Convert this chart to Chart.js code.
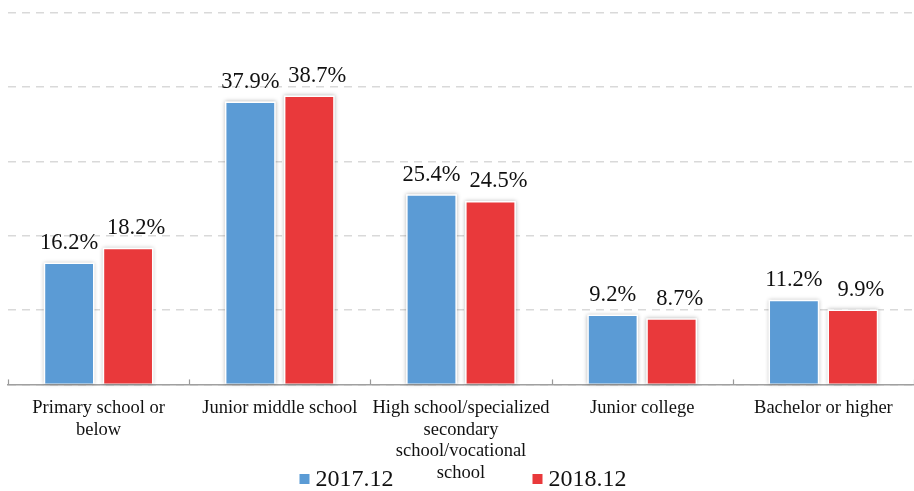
<!DOCTYPE html>
<html>
<head>
<meta charset="utf-8">
<script src="https://cdn.jsdelivr.net/npm/chart.js@4.4.1/dist/chart.umd.min.js"></script>
<style>
  html, body { margin: 0; padding: 0; background: #fff; }
  #wrap { width: 914px; height: 491px; position: relative; }
</style>
</head>
<body>
<div id="wrap"><canvas id="c"></canvas></div>
<script>
// Education level of internet users (%)
const categories = [
  ['Primary school or', 'below'],
  ['Junior middle school'],
  ['High school/specialized', 'secondary', 'school/vocational', 'school'],
  ['Junior college'],
  ['Bachelor or higher']
];
const seriesNames = ['2017.12', '2018.12'];
const values2017 = [16.2, 37.9, 25.4, 9.2, 11.2];
const values2018 = [18.2, 38.7, 24.5, 8.7, 9.9];
const yMin = 0;
const yMax = 50;
const yStep = 10;

const BLUE = '#5B9BD5';
const RED = '#E9393B';
const SERIF = '"Liberation Serif", "Times New Roman", serif';
const TEXT = '#111';

// soft white halo + grey shadow behind each bar
const barShadow = {
  id: 'barShadow',
  beforeDatasetsDraw(chart) {
    const ctx = chart.ctx;
    ctx.save();
    ctx.shadowColor = 'rgba(0,0,0,0.28)';
    ctx.shadowBlur = 4;
    ctx.shadowOffsetX = 0;
    ctx.shadowOffsetY = 0;
    ctx.fillStyle = '#fff';
    chart.data.datasets.forEach((ds, di) => {
      chart.getDatasetMeta(di).data.forEach(el => {
        const p = el.getProps(['x', 'y', 'base', 'width'], true);
        ctx.fillRect(p.x - p.width / 2 - 1.5, p.y - 1.5, p.width + 3, p.base - p.y + 1.5);
      });
    });
    ctx.restore();
  }
};

// value labels above bars
const valueLabels = {
  id: 'valueLabels',
  afterDatasetsDraw(chart, args, opts) {
    const ctx = chart.ctx;
    ctx.save();
    ctx.font = '22.5px ' + SERIF;
    ctx.fillStyle = TEXT;
    ctx.textAlign = 'center';
    ctx.textBaseline = 'alphabetic';
    chart.data.datasets.forEach((ds, di) => {
      const shift = opts.shift[di] || 0;
      chart.getDatasetMeta(di).data.forEach((el, i) => {
        const p = el.getProps(['x', 'y'], true);
        ctx.fillText(ds.data[i].toFixed(1) + '%', p.x + shift, p.y - 15);
      });
    });
    ctx.restore();
  }
};

// short upward tick marks at category boundaries
const boundaryTicks = {
  id: 'boundaryTicks',
  afterDraw(chart) {
    const x = chart.scales.x;
    const ctx = chart.ctx;
    const bottom = chart.chartArea.bottom;
    ctx.save();
    ctx.strokeStyle = '#9a9a9a';
    ctx.lineWidth = 1.2;
    for (let i = 0; i <= categories.length; i++) {
      const px = Math.round(x.getPixelForValue(i - 0.5)) + 0.5;
      ctx.beginPath();
      ctx.moveTo(px, bottom);
      ctx.lineTo(px, bottom - 5);
      ctx.stroke();
    }
    ctx.restore();
  }
};

// legend at the bottom centre
const bottomLegend = {
  id: 'bottomLegend',
  afterDraw(chart) {
    const ctx = chart.ctx;
    ctx.save();
    ctx.font = '24px ' + SERIF;
    ctx.textBaseline = 'middle';
    ctx.textAlign = 'left';
    const box = 10, gap = 6, itemGap = 139;
    const widths = chart.data.datasets.map(ds => ctx.measureText(ds.label).width);
    const total = widths.reduce((a, w) => a + box + gap + w, 0) + itemGap * (widths.length - 1);
    const area = chart.chartArea;
    let x = (area.left + area.right) / 2 + 2 - total / 2;
    const yMid = 479;
    chart.data.datasets.forEach((ds, di) => {
      ctx.fillStyle = ds.backgroundColor;
      ctx.fillRect(x, yMid - 5, box, box);
      x += box + gap;
      ctx.fillStyle = TEXT;
      ctx.fillText(ds.label, x, yMid + 1);
      x += widths[di] + itemGap;
    });
    ctx.restore();
  }
};

new Chart(document.getElementById('c'), {
  type: 'bar',
  data: {
    labels: categories,
    datasets: [
      { label: seriesNames[0], data: values2017, backgroundColor: BLUE, borderWidth: 0 },
      { label: seriesNames[1], data: values2018, backgroundColor: RED, borderWidth: 0 }
    ]
  },
  options: {
    responsive: true,
    maintainAspectRatio: false,
    animation: false,
    layout: { padding: { left: 8, right: 0, top: 13, bottom: -6 } },
    datasets: { bar: { categoryPercentage: 0.651, barPercentage: 0.81 } },
    plugins: {
      legend: { display: false },
      tooltip: { enabled: false },
      valueLabels: { shift: [0, 8] }
    },
    scales: {
      x: {
        grid: { display: false, drawTicks: false },
        border: { display: true, color: '#a0a0a0', width: 1.5 },
        ticks: {
          color: TEXT,
          font: { family: SERIF, size: 18.5, lineHeight: 1.17 },
          padding: 13,
          maxRotation: 0,
          minRotation: 0,
          autoSkip: false
        }
      },
      y: {
        min: yMin,
        max: yMax,
        ticks: { display: false, stepSize: yStep },
        grid: { color: '#d9d9d9', lineWidth: 1.6, drawTicks: false },
        border: { display: false, dash: [8, 6] }
      }
    }
  },
  plugins: [barShadow, valueLabels, boundaryTicks, bottomLegend]
});
</script>
</body>
</html>
